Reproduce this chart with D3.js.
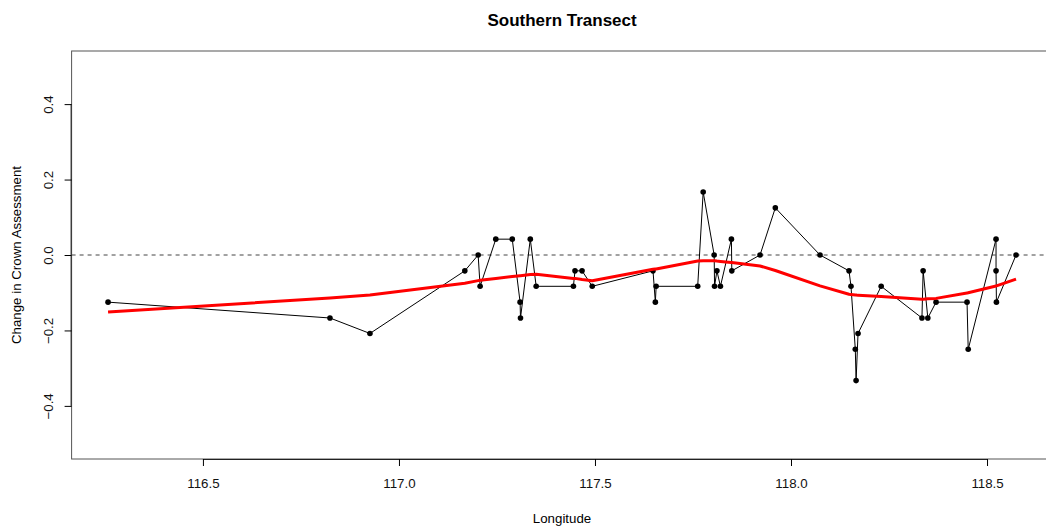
<!DOCTYPE html>
<html>
<head>
<meta charset="utf-8">
<script src="https://cdn.jsdelivr.net/npm/d3@7"></script>
<style>
  body { margin: 0; background: #fff; }
  svg { font-family: "Liberation Sans", Arial, sans-serif; }
</style>
</head>
<body>
<script>
// canvas
var width = 1046, height = 527;

// data
var longitude = [116.258, 116.824, 116.926, 117.168, 117.202, 117.207, 117.247, 117.289, 117.309, 117.310,
  117.335, 117.350, 117.445, 117.449, 117.467, 117.493, 117.648, 117.654, 117.656, 117.762,
  117.776, 117.804, 117.805, 117.811, 117.820, 117.848, 117.849, 117.921, 117.960, 118.074,
  118.148, 118.153, 118.164, 118.166, 118.171, 118.230, 118.334, 118.337, 118.349, 118.370,
  118.449, 118.452, 118.523, 118.523, 118.524, 118.574];
var change = [-0.125, -0.167, -0.208, -0.042, 0, -0.083, 0.042, 0.042, -0.125, -0.167,
  0.042, -0.083, -0.083, -0.042, -0.042, -0.083, -0.042, -0.125, -0.083, -0.083,
  0.167, 0, -0.083, -0.042, -0.083, 0.042, -0.042, 0, 0.125, 0,
  -0.042, -0.083, -0.25, -0.333, -0.208, -0.083, -0.167, -0.042, -0.167, -0.125,
  -0.125, -0.25, 0.042, -0.042, -0.125, 0];
var smooth = [-0.151, -0.114, -0.106, -0.075, -0.068, -0.067, -0.062, -0.057, -0.055, -0.055,
  -0.052, -0.051, -0.062, -0.062, -0.065, -0.068, -0.038, -0.037, -0.037, -0.016,
  -0.015, -0.015, -0.015, -0.016, -0.017, -0.020, -0.020, -0.029, -0.041, -0.082,
  -0.104, -0.105, -0.106, -0.106, -0.107, -0.110, -0.117, -0.117, -0.116, -0.115,
  -0.101, -0.100, -0.082, -0.082, -0.082, -0.064];
var xTicks = [116.5, 117.0, 117.5, 118.0, 118.5];
var yTicks = [-0.4, -0.2, 0.0, 0.2, 0.4];

// plot region
var plot = {left: 71.6, right: 1052.5, top: 51, bottom: 459};
var fs = 13.3; // axis text size

var svg = d3.select("body").append("svg")
  .attr("width", width)
  .attr("height", height);

// scales: R style, 4% padding around data
var xScale = d3.scaleLinear()
  .domain([116.165, 118.667])
  .range([plot.left, plot.right]);
var yScale = d3.scaleLinear()
  .domain([-0.5408, 0.5408])
  .range([plot.bottom, plot.top]);

// box
svg.append("rect")
  .attr("x", plot.left).attr("y", plot.top)
  .attr("width", plot.right - plot.left).attr("height", plot.bottom - plot.top)
  .attr("fill", "none").attr("stroke", "#555").attr("stroke-width", 1);

// x axis
var xAxis = d3.axisBottom(xScale).tickValues(xTicks).tickFormat(d3.format(".1f")).tickSizeOuter(0).tickSize(7).tickPadding(13);
var gx = svg.append("g")
  .attr("transform", "translate(0," + plot.bottom + ")")
  .call(xAxis);
gx.select(".domain").attr("d", "M" + xScale(xTicks[0]) + ",0.5H" + xScale(xTicks[xTicks.length - 1])).attr("stroke", "#222");
gx.selectAll("text").attr("font-size", fs).attr("fill", "#111").attr("font-family", "Liberation Sans, Arial, sans-serif");

// y axis
var yAxis = d3.axisLeft(yScale).tickValues(yTicks).tickFormat(d3.format(".1f")).tickSizeOuter(0).tickSize(7);
var gy = svg.append("g")
  .attr("transform", "translate(" + plot.left + ",0)")
  .call(yAxis);
gy.select(".domain").attr("d", "M-0.5," + yScale(yTicks[0]) + "V" + yScale(yTicks[yTicks.length - 1])).attr("stroke", "#222");
gy.selectAll("text")
  .attr("font-size", fs).attr("fill", "#111").attr("font-family", "Liberation Sans, Arial, sans-serif")
  .attr("x", 0).attr("dy", 0)
  .attr("text-anchor", "middle")
  .attr("transform", "translate(-19,0) rotate(-90)");

// zero reference line
svg.append("line")
  .attr("x1", plot.left).attr("x2", plot.right)
  .attr("y1", yScale(0)).attr("y2", yScale(0))
  .attr("stroke", "#444").attr("stroke-dasharray", "4,4").attr("stroke-width", 1);

// observed series
var pts = longitude.map(function(d, i) { return [d, change[i]]; });
var line = d3.line()
  .x(function(d) { return xScale(d[0]); })
  .y(function(d) { return yScale(d[1]); });

svg.append("path")
  .datum(pts)
  .attr("d", line)
  .attr("fill", "none")
  .attr("stroke", "#000")
  .attr("stroke-width", 1);

svg.selectAll(".pt")
  .data(pts)
  .enter()
  .append("circle")
  .attr("class", "pt")
  .attr("cx", function(d) { return xScale(d[0]); })
  .attr("cy", function(d) { return yScale(d[1]); })
  .attr("r", 2.8)
  .attr("fill", "#000");

// smoothed trend
var sm = longitude.map(function(d, i) { return [d, smooth[i]]; });
svg.append("path")
  .datum(sm)
  .attr("d", line)
  .attr("fill", "none")
  .attr("stroke", "#ff0000")
  .attr("stroke-width", 3)
  .attr("stroke-linejoin", "round");

// titles
svg.append("text")
  .attr("x", (plot.left + plot.right) / 2).attr("y", 26)
  .attr("text-anchor", "middle")
  .attr("font-size", 17).attr("font-weight", "bold")
  .text("Southern Transect");

svg.append("text")
  .attr("x", (plot.left + plot.right) / 2).attr("y", 523)
  .attr("text-anchor", "middle")
  .attr("font-size", fs)
  .text("Longitude");

svg.append("text")
  .attr("transform", "translate(21," + (plot.top + plot.bottom) / 2 + ") rotate(-90)")
  .attr("text-anchor", "middle")
  .attr("font-size", fs)
  .text("Change in Crown Assessment");
</script>
</body>
</html>
